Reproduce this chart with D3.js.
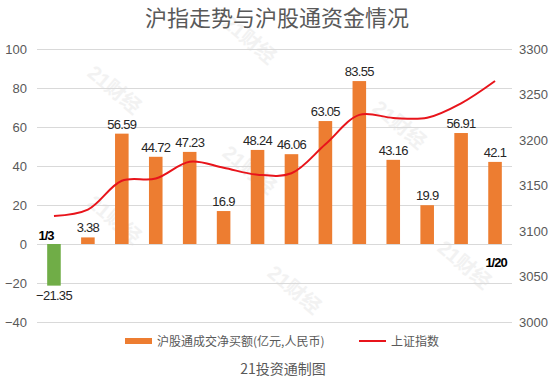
<!DOCTYPE html>
<html><head><meta charset="utf-8">
<script src="https://cdn.jsdelivr.net/npm/d3@7"></script>
<style>
html,body{margin:0;padding:0;background:#fff;}
svg{display:block;font-family:"Liberation Sans",Arial,"Noto Sans CJK SC",sans-serif;}
</style></head>
<body>
<svg id="c" width="557" height="386"></svg>
<script>
const dates = ["1/3","1/4","1/5","1/6","1/9","1/10","1/11","1/12","1/13","1/16","1/17","1/18","1/19","1/20"];
const netBuy = [-21.35,3.38,56.59,44.72,47.23,16.9,48.24,46.06,63.05,83.55,43.16,19.9,56.91,42.1];
const sseIndex = [3116.51,3123.52,3155.22,3157.64,3176.08,3169.51,3161.84,3163.45,3195.31,3227.59,3224.24,3224.41,3240.28,3264.81];
const leftTicks = [-40,-20,0,20,40,60,80,100];
const rightTicks = [3000,3050,3100,3150,3200,3250,3300];
const title = "沪指走势与沪股通资金情况";
const legendBar = "沪股通成交净买额(亿元,人民币)";
const legendLine = "上证指数";
const caption = "21投资通制图";

const svg = d3.select("#c");
const L = 37, R = 512, T = 49, B = 322;
const x = d3.scaleBand().domain(d3.range(dates.length)).range([L, R]).paddingInner(0.6).paddingOuter(0.3);
const yL = d3.scaleLinear().domain([-40, 100]).range([B, T]);
const yR = d3.scaleLinear().domain([3000, 3300]).range([B, T]);

// watermarks
const wm = [[110,95],[245,45],[245,175],[395,130],[110,225],[290,295],[460,270]];
svg.append("g").selectAll("text").data(wm).join("text")
  .attr("transform", d => `translate(${d[0]},${d[1]}) rotate(40)`)
  .attr("text-anchor","middle").attr("font-size",20).attr("font-weight","bold")
  .attr("fill","#f2f2f2").text("21财经");

// title
svg.append("text").attr("x", 277).attr("y", 26).attr("text-anchor","middle")
  .attr("font-size", 22).attr("fill","#595959")
  .attr("font-family","'Noto Sans CJK SC',sans-serif").text(title);

// gridlines
svg.append("g").selectAll("line").data(leftTicks).join("line")
  .attr("x1", L).attr("x2", R).attr("y1", d => yL(d)).attr("y2", d => yL(d))
  .attr("stroke","#d9d9d9").attr("stroke-width",1).attr("shape-rendering","crispEdges");

// left axis
const axL = d3.axisLeft(yL).tickValues(leftTicks).tickSize(0).tickPadding(10)
  .tickFormat(d => d < 0 ? "\u2212" + Math.abs(d) : d);
const gL = svg.append("g").attr("transform", `translate(${L},0)`).call(axL);
gL.select(".domain").remove();
gL.selectAll("text").attr("font-size",13).attr("fill","#595959").attr("font-family","'Liberation Sans',Arial,sans-serif");

// right axis
const axR = d3.axisRight(yR).tickValues(rightTicks).tickSize(0).tickPadding(7).tickFormat(d3.format("d"));
const gR = svg.append("g").attr("transform", `translate(${R},0)`).call(axR);
gR.select(".domain").remove();
gR.selectAll("text").attr("font-size",13).attr("fill","#595959").attr("font-family","'Liberation Sans',Arial,sans-serif");

// bars
svg.append("g").selectAll("rect").data(netBuy).join("rect")
  .attr("x", (d,i) => x(i)).attr("width", x.bandwidth())
  .attr("y", d => yL(Math.max(0,d))).attr("height", d => Math.abs(yL(d) - yL(0)))
  .attr("fill", d => d < 0 ? "#70AD47" : "#ED7D31");

// value labels
svg.append("g").selectAll("text").data(netBuy).join("text")
  .attr("x", (d,i) => x(i) + x.bandwidth()/2)
  .attr("y", d => d < 0 ? yL(d) + 14 : yL(d) - 5)
  .attr("text-anchor","middle").attr("font-size",13).attr("letter-spacing","-0.7")
  .attr("fill","#262626").text(d => d < 0 ? "\u2212" + Math.abs(d) : d);

// date labels (first and last)
const cx = i => x(i) + x.bandwidth()/2;
svg.append("text").attr("x", cx(0) - 8).attr("y", yL(0) - 4).attr("text-anchor","middle")
  .attr("font-size",13).attr("font-weight","bold").attr("letter-spacing","-1").attr("fill","#000").text(dates[0]);
const last = dates.length - 1;
svg.append("text").attr("x", cx(last) + 1).attr("y", yL(0) + 23).attr("text-anchor","middle")
  .attr("font-size",13).attr("font-weight","bold").attr("letter-spacing","-1").attr("fill","#000").text(dates[last]);

// line
const line = d3.line().x((d,i) => cx(i)).y(d => yR(d)).curve(d3.curveCatmullRom.alpha(0.5));
svg.append("path").datum(sseIndex).attr("d", line)
  .attr("fill","none").attr("stroke","#E8141B").attr("stroke-width",2);

// legend
const lg = svg.append("g").attr("font-family","'Noto Sans CJK SC',sans-serif");
lg.append("rect").attr("x",125).attr("y",338).attr("width",27).attr("height",6).attr("fill","#ED7D31");
lg.append("text").attr("x",157).attr("y",346).attr("font-size",12).attr("fill","#595959").text(legendBar);
lg.append("line").attr("x1",359).attr("x2",386).attr("y1",341).attr("y2",341).attr("stroke","#E8141B").attr("stroke-width",2);
lg.append("text").attr("x",391).attr("y",346).attr("font-size",12).attr("fill","#595959").text(legendLine);

svg.append("text").attr("x",283).attr("y",374).attr("text-anchor","middle").attr("font-size",14)
  .attr("fill","#595959").attr("font-family","'Noto Sans CJK SC',sans-serif").text(caption);
</script>
</body></html>
